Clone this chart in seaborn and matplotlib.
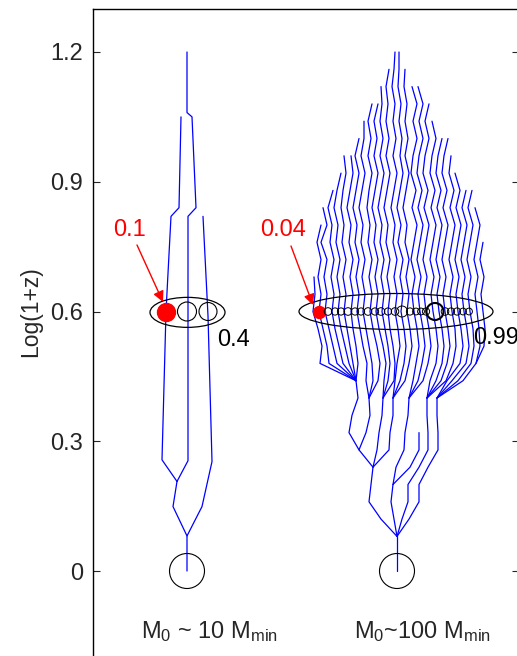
import numpy as np
import pandas as pd
import matplotlib
matplotlib.use("Agg")
import matplotlib.pyplot as plt
from matplotlib.patches import Ellipse
import seaborn as sns

# ---------------- data ----------------
# y-axis tick values (log(1+z))
yticks = [0.0, 0.3, 0.6, 0.9, 1.2]
ytick_labels = ["0", "0.3", "0.6", "0.9", "1.2"]

# time levels used by the large merger tree (log(1+z))
LEVELS = [1.20, 1.16, 1.12, 1.08, 1.04, 1.00, 0.96, 0.92, 0.88, 0.84, 0.80,
          0.76, 0.72, 0.68, 0.64, 0.60, 0.56, 0.52, 0.48, 0.44, 0.40, 0.36,
          0.32, 0.28, 0.24, 0.20, 0.16, 0.12, 0.08, 0.00]

# small tree (M0 ~ 10 Mmin): horizontal position / log(1+z) of each branch
left_branch_x = [
    [187, 187, 192, 196, 188, 188, 177],
    [181, 179, 171, 166, 162, 177],
    [203, 208, 212, 202, 187],
    [177, 173, 187, 187],
]
left_branch_y = [
    [1.20, 1.06, 1.05, 0.84, 0.82, 0.255, 0.207],
    [1.05, 0.84, 0.82, 0.60, 0.257, 0.207],
    [0.82, 0.59, 0.253, 0.149, 0.081],
    [0.207, 0.149, 0.081, 0.0],
]

# large tree (M0 ~ 100 Mmin): index of first level and positions per level
right_branch_start = [13, 10, 9, 8, 7, 6, 6, 5, 4, 3, 3, 2, 1, 0, 0, 1, 2, 2,
                      3, 4, 5, 5, 6, 7, 8, 8, 9, 11,
                      19, 20, 20, 20, 20, 22, 20, 20, 24, 25, 28]
right_branch_x = [
    [314, 315, 313, 318, 322, 320, 356],
    [321, 317, 321, 318, 321, 319, 323, 327, 329, 356],
    [323, 327, 321, 327, 324, 327, 325, 329, 333, 337, 356],
    [333, 328, 332, 330, 334, 331, 334, 332, 335, 339, 343, 356],
    [341, 337, 334, 338, 336, 340, 337, 340, 338, 341, 345, 349, 356],
    [344, 346, 343, 341, 344, 342, 346, 343, 346, 344, 347, 350, 353, 356],
    [351, 353, 350, 347, 351, 349, 353, 350, 353, 351, 353, 356, 358, 356],
    [359, 355, 359, 356, 353, 357, 355, 359, 356, 359, 357, 360, 363, 367, 366, 369],
    [364, 364, 361, 365, 362, 359, 363, 361, 365, 362, 365, 363, 366, 369, 372, 373, 369],
    [372, 368, 371, 368, 372, 369, 367, 370, 368, 372, 369, 372, 370, 373, 377, 380, 378, 369],
    [378, 374, 377, 374, 378, 375, 372, 376, 374, 378, 375, 378, 376, 379, 383, 386, 384, 383],
    [381, 382, 380, 383, 380, 384, 381, 378, 382, 380, 384, 381, 384, 382, 385, 388, 390, 388, 383],
    [389, 386, 388, 386, 389, 386, 390, 387, 384, 388, 386, 390, 387, 390, 388, 390, 393, 395, 394, 383],
    [395, 394, 392, 395, 393, 396, 393, 397, 394, 391, 395, 393, 397, 394, 397, 395, 398, 400, 397, 395, 393],
    [399, 399, 398, 401, 399, 402, 400, 403, 400, 397, 401, 398, 403, 400, 403, 401, 404, 406, 404, 400, 393],
    [405, 404, 407, 405, 408, 405, 409, 406, 403, 407, 405, 409, 406, 409, 407, 410, 412, 409, 405, 393],
    [412, 417, 413, 417, 413, 411, 416, 412, 417, 414, 411, 415, 412, 414, 417, 419, 416, 413, 409],
    [418, 423, 419, 423, 419, 417, 422, 418, 423, 420, 417, 421, 418, 420, 423, 425, 422, 418, 409],
    [429, 425, 429, 425, 423, 428, 424, 429, 426, 423, 427, 424, 426, 429, 431, 428, 423, 409],
    [432, 436, 432, 430, 435, 431, 436, 433, 430, 434, 431, 433, 436, 438, 436, 430, 427],
    [442, 438, 436, 441, 437, 442, 439, 436, 440, 437, 439, 442, 444, 442, 436, 427],
    [448, 444, 442, 447, 443, 448, 445, 442, 446, 443, 445, 448, 450, 447, 441, 427],
    [451, 449, 454, 450, 455, 452, 449, 453, 450, 452, 455, 456, 453, 446, 427],
    [455, 460, 456, 461, 458, 455, 459, 456, 458, 461, 463, 460, 447, 437],
    [466, 462, 467, 464, 461, 465, 462, 464, 467, 469, 466, 452, 437],
    [472, 468, 473, 470, 467, 471, 468, 470, 473, 474, 471, 458, 437],
    [475, 480, 477, 474, 478, 475, 477, 479, 480, 476, 463, 437],
    [483, 480, 484, 481, 483, 485, 484, 476],
    [356, 358, 352, 349, 359, 373],
    [369, 370, 366, 359],
    [383, 382, 379, 377, 373],
    [393, 393, 390, 389, 373],
    [409, 408, 405, 404, 396, 393],
    [419, 419, 410, 393],
    [427, 427, 428, 428, 419, 408, 408, 402, 397],
    [437, 437, 438, 438, 428, 419, 419, 409, 397],
    [373, 371, 369, 381, 397],
    [393, 391, 394, 397],
    [397, 397],
]

# progenitors at log(1+z)=0.6 : positions and relative radii
left_prog_x = [166, 187, 208]
left_prog_r = [9.0, 9.5, 9.0]
right_prog_x = [319, 328, 335, 341, 348, 355, 361, 368, 375, 381, 388, 395,
                402, 410, 416, 421, 426, 435, 445, 451, 457, 463, 469]
right_prog_r = [6.0, 3.8, 3.6, 3.6, 3.8, 3.6, 3.6, 3.8, 3.6, 3.8, 3.6, 3.8,
                5.5, 3.6, 3.4, 3.4, 3.6, 8.5, 3.8, 3.6, 3.6, 3.4, 3.4]
root_x = [187, 397]
root_r = [17.5, 17.5]

# ---------------- assemble ----------------
rows = []
bid = 0
for xs, ys in zip(left_branch_x, left_branch_y):
    for i, (x, y) in enumerate(zip(xs, ys)):
        rows.append((bid, i, x, y))
    bid += 1
for s, xs in zip(right_branch_start, right_branch_x):
    for i, x in enumerate(xs):
        rows.append((bid, i, x, LEVELS[s + i]))
    bid += 1
df = pd.DataFrame(rows, columns=["branch", "order", "x", "y"])

sns.set_style("white")
plt.rcParams["font.family"] = ["Liberation Sans", "DejaVu Sans"]
plt.rcParams["mathtext.fontset"] = "custom"
plt.rcParams["mathtext.rm"] = "Liberation Sans"
plt.rcParams["mathtext.it"] = "Liberation Sans"

W, H = 517, 656
fig = plt.figure(figsize=(W / 100, H / 100), dpi=100)
ymin, ymax = -0.25, 1.30
pix_per_unit = 432.5
top_px = 571 - ymax * pix_per_unit
height_px = (ymax - ymin) * pix_per_unit
ax = fig.add_axes([93 / W, (H - top_px - height_px) / H, 426 / W, height_px / H])
ax.set_xlim(93, 519)
ax.set_ylim(ymin, ymax)

sns.lineplot(data=df, x="x", y="y", units="branch", estimator=None, sort=False,
             color="#0000ff", lw=0.9, ax=ax, legend=False)

def msize(r):
    return (2 * np.asarray(r) * 0.72) ** 2

yl = 0.60
# ellipses
ax.add_patch(Ellipse((187.5, 0.598), 75, 30 / pix_per_unit, fill=False,
                     ec="black", lw=0.9, zorder=3))
ax.add_patch(Ellipse((396, 0.600), 194, 36 / pix_per_unit, fill=False,
                     ec="black", lw=0.9, zorder=3))

# left progenitors
ax.scatter(left_prog_x[:1], [yl], s=msize(left_prog_r[:1]), color="red",
           ec="red", zorder=4)
ax.scatter(left_prog_x[1:], [yl] * 2, s=msize(left_prog_r[1:]),
           facecolors="none", edgecolors="black", lw=0.8, zorder=4)
# right progenitors
ax.scatter(right_prog_x[:1], [yl], s=msize(right_prog_r[:1]), color="red",
           ec="red", zorder=4)
big = [i for i in range(1, len(right_prog_x)) if right_prog_r[i] > 8]
small = [i for i in range(1, len(right_prog_x)) if right_prog_r[i] <= 8]
ax.scatter([right_prog_x[i] for i in small], [yl] * len(small),
           s=msize([right_prog_r[i] for i in small]),
           facecolors="none", edgecolors="black", lw=0.7, zorder=4)
ax.scatter([right_prog_x[i] for i in big], [yl] * len(big),
           s=msize([right_prog_r[i] for i in big]),
           facecolors="none", edgecolors="black", lw=1.5, zorder=4)
# roots
ax.scatter(root_x, [0.0, 0.0], s=msize(root_r), facecolors="none",
           edgecolors="black", lw=0.8, zorder=4)

def ypx(p):
    return (571 - p) / pix_per_unit

fs = 17
ax.text(130, ypx(230), "0.1", color="red", fontsize=fs, ha="center", va="center")
ax.text(283, ypx(230), "0.04", color="red", fontsize=fs, ha="center", va="center")
ax.text(217, ypx(340), "0.4", color="black", fontsize=fs, ha="left", va="center")
ax.text(473, ypx(338), "0.99", color="black", fontsize=fs, ha="left", va="center",
        clip_on=False)
arrow = dict(arrowstyle="-|>", color="red", lw=1.0, mutation_scale=16,
             shrinkA=0, shrinkB=0)
ax.annotate("", xy=(163, ypx(302)), xytext=(137, ypx(245)), arrowprops=arrow, zorder=5)
ax.annotate("", xy=(313, ypx(305)), xytext=(291, ypx(246)), arrowprops=arrow, zorder=5)

ax.text(210, ypx(632), r"M$_0$ ~ 10 M$_{\mathrm{min}}$", fontsize=fs,
        ha="center", va="center")
ax.text(423, ypx(632), r"M$_0$~100 M$_{\mathrm{min}}$", fontsize=fs,
        ha="center", va="center")

ax.set_yticks(yticks)
ax.set_yticklabels(ytick_labels)
ax.set_xticks([])
ax.tick_params(axis="y", direction="in", length=5, width=0.8, labelsize=fs,
               left=True, right=True, pad=7)
ax.set_ylabel("Log(1+z)", fontsize=16.5, labelpad=6)
ax.yaxis.label.set_y((ymax - ypx(312)) and (ypx(312) - ymin) / (ymax - ymin))
ax.set_xlabel("")
for sp in ax.spines.values():
    sp.set_visible(True)
    sp.set_color("black")
    sp.set_linewidth(1.0)

fig.savefig("out.png", dpi=100)
